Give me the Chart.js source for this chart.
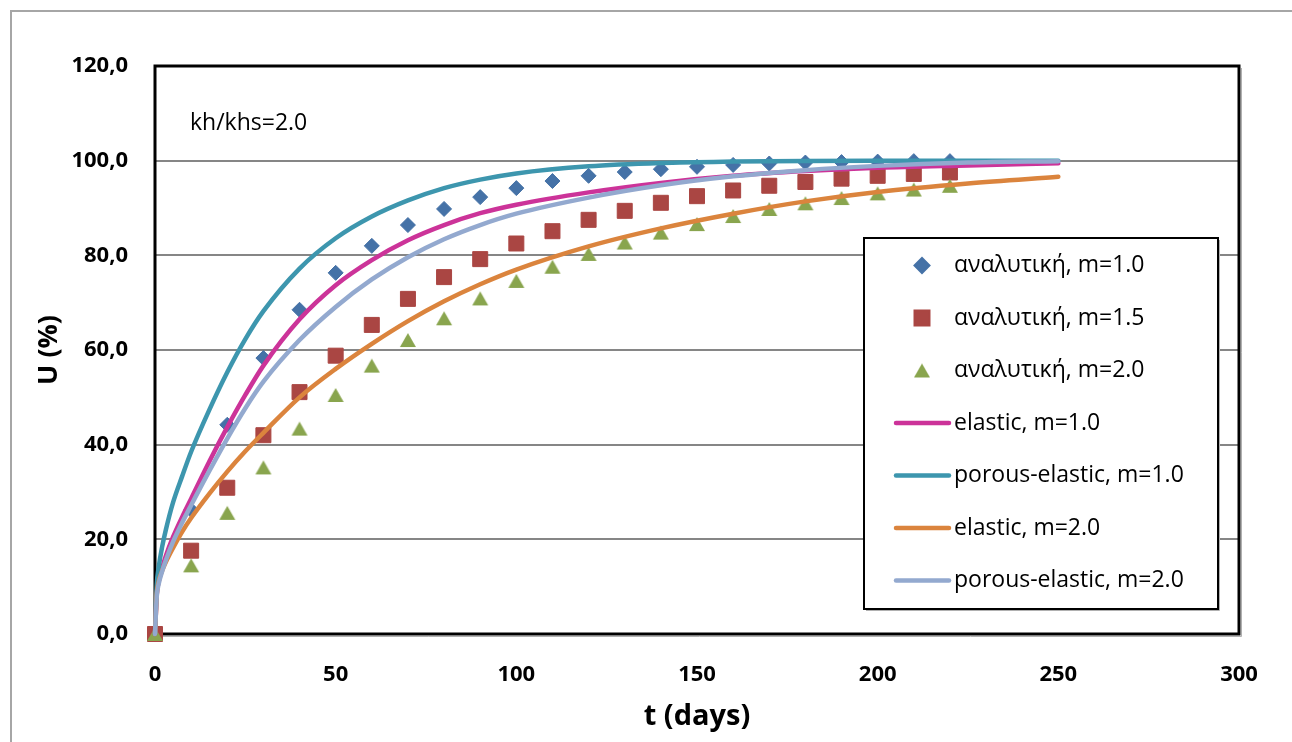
<!DOCTYPE html>
<html>
<head>
<meta charset="utf-8">
<title>U (%) – t (days), kh/khs=2.0</title>
<script src="https://cdn.jsdelivr.net/npm/chart.js@4.4.1/dist/chart.umd.min.js"></script>
<style>
  html, body { margin: 0; padding: 0; background: #ffffff; }
  #wrap { width: 1292px; height: 742px; }
</style>
</head>
<body>
<div id="wrap"><canvas id="chart" width="1292" height="742"></canvas></div>
<script>
// ---- data -------------------------------------------------------------
// analytical solution, sampled every 10 days
const tAnalytic = [0, 10, 20, 30, 40, 50, 60, 70, 80, 90, 100, 110, 120, 130, 140, 150, 160, 170, 180, 190, 200, 210, 220];
const uAnalyticM10 = [0, 26.2, 44.2, 58.3, 68.5, 76.3, 82.0, 86.4, 89.8, 92.3, 94.2, 95.7, 96.8, 97.6, 98.2, 98.7, 99.1, 99.4, 99.6, 99.7, 99.8, 99.9, 99.9];
const uAnalyticM15 = [0, 17.6, 30.9, 42.0, 51.1, 58.8, 65.3, 70.8, 75.4, 79.2, 82.5, 85.1, 87.5, 89.4, 91.1, 92.5, 93.7, 94.7, 95.5, 96.2, 96.8, 97.2, 97.5];
const uAnalyticM20 = [0, 14.5, 25.6, 35.2, 43.4, 50.5, 56.7, 62.1, 66.7, 70.9, 74.6, 77.6, 80.3, 82.7, 84.8, 86.6, 88.3, 89.8, 91.0, 92.1, 93.1, 93.9, 94.7];

// numerical models (elastic / porous-elastic)
const tModel = [0, 0.5, 1, 2, 3, 5, 7.5, 10, 15, 20, 25, 30, 40, 50, 60, 70, 80, 90, 100, 120, 140, 160, 180, 200, 225, 250];
const uElasticM10 = [0, 8.5, 11, 14, 16.5, 20.5, 24.7, 28.6, 36.4, 43.7, 50.5, 56.7, 66.5, 73.7, 79.0, 83.2, 86.4, 88.9, 90.7, 93.3, 95.3, 96.8, 97.8, 98.5, 99.0, 99.45];
const uPorousM10 = [0, 10.5, 14, 18.5, 22, 27.8, 33.3, 38.5, 47.3, 55.3, 62.3, 68.2, 77.2, 83.6, 88.2, 91.6, 94.2, 96.0, 97.3, 98.8, 99.5, 99.8, 99.95, 100, 100, 100];
const uElasticM20 = [0, 8.5, 11, 13.4, 15.2, 18.2, 21.6, 24.5, 29.6, 34.3, 38.6, 42.5, 50, 56, 61.3, 66.1, 70.3, 73.9, 77.0, 81.9, 85.7, 88.8, 91.4, 93.4, 95.2, 96.6];
const uPorousM20 = [0, 8, 10.5, 13.3, 15.6, 19.5, 23.5, 27.2, 34.4, 41.3, 47.7, 53.3, 62.1, 69.1, 74.9, 79.6, 83.4, 86.4, 88.8, 92.2, 94.8, 96.7, 98.0, 98.9, 99.6, 99.9];

// axes
const xRange = [0, 300];
const xStep = 50;
const yRange = [0, 120];
const yStep = 20;

const seriesLabels = [
  'αναλυτική, m=1.0',
  'αναλυτική, m=1.5',
  'αναλυτική, m=2.0',
  'elastic, m=1.0',
  'porous-elastic, m=1.0',
  'elastic, m=2.0',
  'porous-elastic, m=2.0'
];
const noteText = 'kh/khs=2.0';

// ---- styling ----------------------------------------------------------
const FONT = "'Open Sans', 'Noto Sans', 'DejaVu Sans', sans-serif";
const COLORS = ['#4572A7', '#AA4643', '#89A54E', '#CC3399', '#3D96AE', '#DB843D', '#93A9CF'];
const LINE_WIDTH = 4.5;

function triangleMarker(color) {
  // triangle whose bounding box is centred on the data point
  const c = document.createElement('canvas');
  c.width = 18; c.height = 16;
  const g = c.getContext('2d');
  g.fillStyle = color;
  g.beginPath();
  g.moveTo(9, 1);
  g.lineTo(17, 15);
  g.lineTo(1, 15);
  g.closePath();
  g.fill();
  return c;
}
const triangleImg = triangleMarker(COLORS[2]);

const toPoints = (xs, ys) => xs.map((x, i) => ({ x: x, y: ys[i] }));

function markerSet(i, xs, ys, style, radius) {
  return {
    label: seriesLabels[i],
    data: toPoints(xs, ys),
    showLine: false,
    pointStyle: style,
    pointRadius: radius,
    pointHoverRadius: radius,
    pointBackgroundColor: COLORS[i],
    pointBorderColor: COLORS[i],
    pointBorderWidth: 1,
    backgroundColor: COLORS[i],
    borderColor: COLORS[i],
    order: seriesLabels.length - i,
    clip: false
  };
}
function lineSet(i, xs, ys) {
  return {
    label: seriesLabels[i],
    data: toPoints(xs, ys),
    showLine: true,
    borderColor: COLORS[i],
    backgroundColor: COLORS[i],
    borderWidth: LINE_WIDTH,
    borderCapStyle: 'round',
    borderJoinStyle: 'round',
    cubicInterpolationMode: 'monotone',
    pointRadius: 0,
    pointHoverRadius: 0,
    order: seriesLabels.length - i,
    clip: false
  };
}

const datasets = [
  markerSet(0, tAnalytic, uAnalyticM10, 'rectRot', 7.5),
  markerSet(1, tAnalytic, uAnalyticM15, 'rect', 10.6),
  markerSet(2, tAnalytic, uAnalyticM20, triangleImg, 9),
  lineSet(3, tModel, uElasticM10),
  lineSet(4, tModel, uPorousM10),
  lineSet(5, tModel, uElasticM20),
  lineSet(6, tModel, uPorousM20)
];

// ---- frame, note and legend --------------------------------------------
const LEGEND_BOX = { left: 864, top: 238, right: 1218, bottom: 609 };
const LEGEND_ROW0 = 265.5, LEGEND_ROW_STEP = 52.5;
const LEGEND_SYMBOL_X = 922, LEGEND_LINE = [896, 949], LEGEND_TEXT_X = 954;

const decorations = {
  id: 'decorations',
  beforeDraw(chart) {
    const ctx = chart.ctx;
    ctx.save();
    ctx.fillStyle = '#ffffff';
    ctx.fillRect(0, 0, chart.width, chart.height);
    // outer chart border (runs past the right and bottom edges)
    ctx.strokeStyle = '#a6a6a6';
    ctx.lineWidth = 2;
    ctx.strokeRect(11, 11, chart.width + 40, chart.height + 40);
    ctx.restore();
  },
  beforeDatasetsDraw(chart) {
    const ctx = chart.ctx;
    const a = chart.chartArea;
    ctx.save();
    ctx.strokeStyle = '#b0b0b0';
    ctx.lineWidth = 1;
    ctx.beginPath();
    ctx.moveTo(a.right + 2.5, a.top + 2);
    ctx.lineTo(a.right + 2.5, a.bottom + 2.5);
    ctx.lineTo(a.left + 2, a.bottom + 2.5);
    ctx.stroke();
    ctx.strokeStyle = '#000000';
    ctx.lineWidth = 3;
    ctx.strokeRect(a.left, a.top, a.right - a.left, a.bottom - a.top);
    ctx.restore();
  },
  afterDatasetsDraw(chart) {
    const ctx = chart.ctx;
    ctx.save();
    // annotation
    ctx.fillStyle = '#000000';
    ctx.font = '23px ' + FONT;
    ctx.textAlign = 'left';
    ctx.textBaseline = 'alphabetic';
    ctx.fillText(noteText, 190, 130);

    // legend box
    const b = LEGEND_BOX;
    ctx.fillStyle = '#ffffff';
    ctx.fillRect(b.left, b.top, b.right - b.left, b.bottom - b.top);
    ctx.strokeStyle = '#b0b0b0';
    ctx.lineWidth = 1;
    ctx.beginPath();
    ctx.moveTo(b.right + 1.5, b.top + 2);
    ctx.lineTo(b.right + 1.5, b.bottom + 1.5);
    ctx.lineTo(b.left + 2, b.bottom + 1.5);
    ctx.stroke();
    ctx.strokeStyle = '#000000';
    ctx.lineWidth = 2;
    ctx.strokeRect(b.left, b.top, b.right - b.left, b.bottom - b.top);

    ctx.font = '23px ' + FONT;
    ctx.textBaseline = 'middle';
    chart.data.datasets.forEach((ds, i) => {
      const y = LEGEND_ROW0 + i * LEGEND_ROW_STEP;
      if (ds.showLine) {
        ctx.strokeStyle = ds.borderColor;
        ctx.lineWidth = LINE_WIDTH;
        ctx.lineCap = 'round';
        ctx.beginPath();
        ctx.moveTo(LEGEND_LINE[0], y);
        ctx.lineTo(LEGEND_LINE[1], y);
        ctx.stroke();
      } else if (typeof ds.pointStyle === 'object') {
        const img = ds.pointStyle;
        ctx.drawImage(img, LEGEND_SYMBOL_X - img.width / 2, y - img.height / 2);
      } else {
        ctx.fillStyle = ds.pointBackgroundColor;
        ctx.strokeStyle = ds.pointBorderColor;
        Chart.helpers.drawPoint(ctx, {
          pointStyle: ds.pointStyle,
          radius: ds.pointRadius,
          rotation: 0,
          borderWidth: 1
        }, LEGEND_SYMBOL_X, y);
      }
      ctx.fillStyle = '#000000';
      ctx.fillText(ds.label, LEGEND_TEXT_X, y);
    });
    ctx.restore();
  }
};

new Chart(document.getElementById('chart'), {
  type: 'scatter',
  data: { datasets: datasets },
  plugins: [decorations],
  options: {
    responsive: false,
    animation: false,
    devicePixelRatio: 1,
    layout: { padding: { left: 0, top: 66, right: 53, bottom: 0 } },
    plugins: {
      legend: { display: false },
      tooltip: { enabled: false }
    },
    scales: {
      x: {
        type: 'linear',
        min: xRange[0],
        max: xRange[1],
        ticks: {
          stepSize: xStep,
          color: '#000000',
          font: { family: FONT, size: 22, weight: 'bold' },
          padding: 28,
          maxRotation: 0,
          autoSkip: false
        },
        grid: { display: false, drawTicks: false },
        border: { display: false },
        title: {
          display: true,
          text: 't (days)',
          color: '#000000',
          font: { family: FONT, size: 29, weight: 'bold' },
          padding: { top: 0, bottom: 8 }
        },
        afterFit(scale) { scale.height = 108; }
      },
      y: {
        min: yRange[0],
        max: yRange[1],
        ticks: {
          stepSize: yStep,
          color: '#000000',
          font: { family: FONT, size: 22, weight: 'bold' },
          padding: 27,
          callback: (v) => Number(v).toFixed(1).replace('.', ',')
        },
        grid: { color: '#868686', lineWidth: 2, drawTicks: false },
        border: { display: false },
        title: {
          display: true,
          text: 'U (%)',
          color: '#000000',
          font: { family: FONT, size: 27, weight: 'bold' },
          padding: { top: 33, bottom: 0 }
        },
        afterFit(scale) { scale.width = 155; }
      }
    }
  }
});
</script>
</body>
</html>
